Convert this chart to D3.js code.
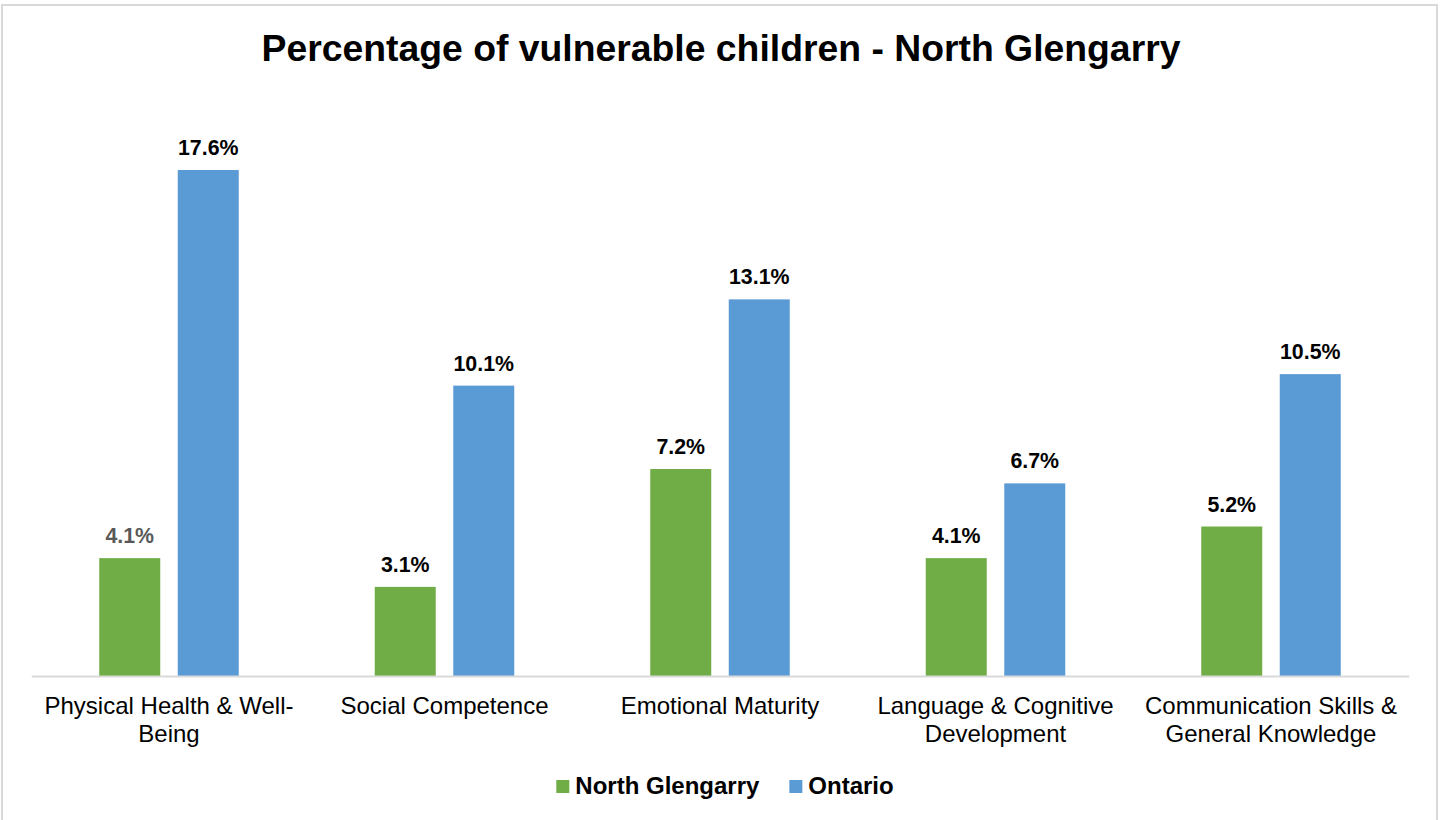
<!DOCTYPE html>
<html>
<head>
<meta charset="utf-8">
<script src="https://cdn.jsdelivr.net/npm/d3@7"></script>
<style>
  html, body { margin: 0; padding: 0; background: #fff; }
  svg { display: block; font-family: "Liberation Sans", Arial, sans-serif; }
</style>
</head>
<body>
<svg id="chart" width="1442" height="820"></svg>
<script>
// Chart data
const title = "Percentage of vulnerable children - North Glengarry";
const categories = [
  "Physical Health & Well-Being",
  "Social Competence",
  "Emotional Maturity",
  "Language & Cognitive Development",
  "Communication Skills & General Knowledge"
];
const seriesNames = ["North Glengarry", "Ontario"];
const northGlengarry = [4.1, 3.1, 7.2, 4.1, 5.2];
const ontario = [17.6, 10.1, 13.1, 6.7, 10.5];
const seriesColors = ["#70AD47", "#5B9BD5"];

const seriesValues = [northGlengarry, ontario];
const W = 1442, H = 820;
const svg = d3.select("#chart");

// Outer frame
svg.append("rect")
  .attr("x", 2).attr("y", 5)
  .attr("width", 1435).attr("height", 830)
  .attr("fill", "#fff")
  .attr("stroke", "#d9d9d9").attr("stroke-width", 2);

// Title
svg.append("text")
  .attr("x", 721).attr("y", 61)
  .attr("text-anchor", "middle")
  .attr("font-size", "37.33px").attr("font-weight", "bold")
  .attr("fill", "#000")
  .text(title);

// Scales
const plot = { left: 31.25, right: 1408.75, top: 101, bottom: 676 };
const x0 = d3.scaleBand().domain(categories).range([plot.left, plot.right]).padding(0);
const x1 = d3.scaleBand().domain(seriesNames).range([0, x0.bandwidth()])
  .paddingInner(0.223).paddingOuter(0.866);
const y = d3.scaleLinear().domain([0, 20]).range([plot.bottom, plot.top]);

// Bars
const rows = categories.map((c, i) => ({
  category: c,
  values: seriesNames.map((s, k) => ({ series: s, k, i, value: seriesValues[k][i] }))
}));

const groups = svg.append("g").selectAll("g")
  .data(rows).join("g")
  .attr("transform", d => `translate(${x0(d.category)},0)`);

groups.selectAll("rect")
  .data(d => d.values).join("rect")
  .attr("x", d => x1(d.series))
  .attr("y", d => y(d.value))
  .attr("width", x1.bandwidth())
  .attr("height", d => y(0) - y(d.value))
  .attr("fill", d => seriesColors[d.k]);

// Value labels
groups.selectAll("text.val")
  .data(d => d.values).join("text")
  .attr("class", "val")
  .attr("x", d => x1(d.series) + x1.bandwidth() / 2)
  .attr("y", d => y(d.value) - 15)
  .attr("text-anchor", "middle")
  .attr("font-size", "21.33px").attr("font-weight", "bold")
  .attr("fill", d => (d.i === 0 && d.k === 0) ? "#595959" : "#000")
  .text(d => d.value.toFixed(1) + "%");

// Category axis
const xAxis = d3.axisBottom(x0).tickSize(0).tickPadding(0);
const axisG = svg.append("g")
  .attr("transform", `translate(0,${plot.bottom})`)
  .call(xAxis);
axisG.select(".domain").attr("stroke", "#d9d9d9").attr("stroke-width", 2);
axisG.selectAll(".tick text")
  .attr("font-size", "24px")
  .attr("font-family", "Liberation Sans, Arial, sans-serif")
  .attr("fill", "#000")
  .attr("dy", null)
  .attr("y", 38)
  .each(function() { wrap(d3.select(this), 264); });

function wrap(text, width) {
  const full = text.text();
  // split on spaces, keeping hyphen break points
  const tokens = full.split(/\s+/).flatMap(w => {
    const parts = w.split(/(?<=-)/);
    return parts.map((p, j) => ({ t: p, space: j === parts.length - 1 }));
  });
  const lines = [];
  let cur = "";
  text.text(null);
  const probe = text.append("tspan");
  tokens.forEach((tok, idx) => {
    const prevSep = (idx > 0 && tokens[idx - 1].space) ? " " : "";
    const cand = cur === "" ? tok.t : cur + prevSep + tok.t;
    probe.text(cand);
    if (probe.node().getComputedTextLength() > width && cur !== "") {
      lines.push(cur);
      cur = tok.t;
    } else {
      cur = cand;
    }
  });
  if (cur) lines.push(cur);
  probe.remove();
  lines.forEach((l, j) => {
    text.append("tspan")
      .attr("x", 0)
      .attr("y", 38 + j * 28)
      .text(l);
  });
}

// Legend
const legend = svg.append("g");
const legendItems = legend.selectAll("g").data(seriesNames).join("g");
legendItems.append("rect")
  .attr("width", 13).attr("height", 13)
  .attr("y", -14)
  .attr("fill", (d, i) => seriesColors[i]);
legendItems.append("text")
  .attr("x", 19).attr("y", 0)
  .attr("font-size", "24px").attr("font-weight", "bold")
  .attr("fill", "#000")
  .text(d => d);
let lx = 0;
const gap = 30;
legendItems.each(function() {
  const g = d3.select(this);
  g.attr("transform", `translate(${lx},0)`);
  lx += 19 + g.select("text").node().getComputedTextLength() + gap;
});
lx -= gap;
legend.attr("transform", `translate(${(W - lx) / 2 + 4},${794})`);
</script>
</body>
</html>
